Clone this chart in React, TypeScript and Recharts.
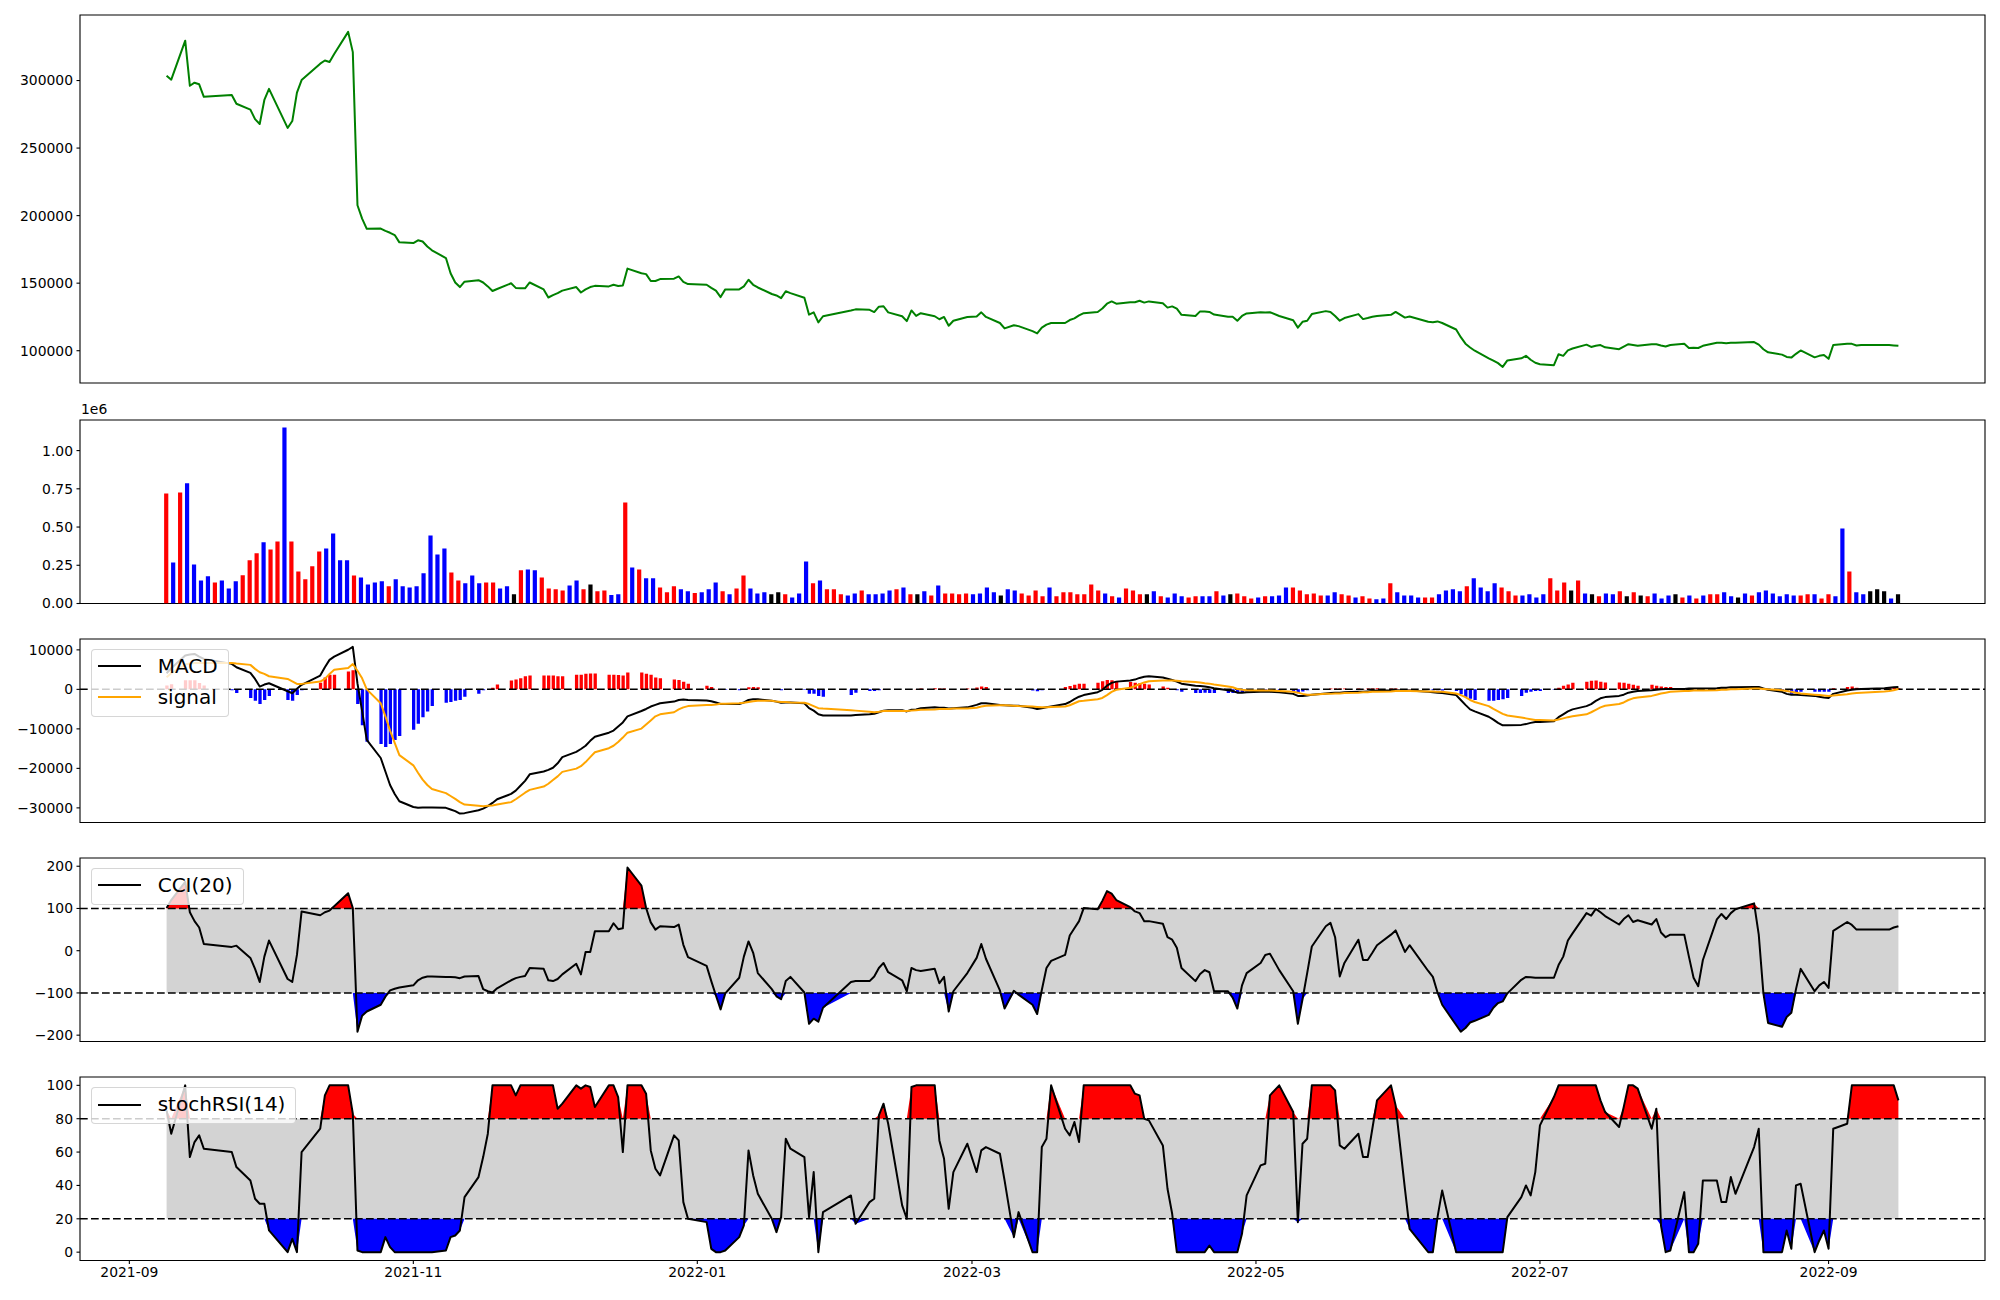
import {
  Area,
  Bar,
  Cell,
  ComposedChart,
  Legend,
  Line,
  ReferenceArea,
  ReferenceLine,
  XAxis,
  YAxis,
} from 'recharts'

// KRX trading days shown in the chart, per month
const MONTHS: [string, number[]][] = [
  ['2021-09', [9, 10, 13, 14, 15, 16, 17, 23, 24, 27, 28, 29, 30]],
  ['2021-10', [1, 5, 6, 7, 8, 12, 13, 14, 15, 18, 19, 20, 21, 22, 25, 26, 27, 28, 29]],
  ['2021-11', [1, 2, 3, 4, 5, 8, 9, 10, 11, 12, 15, 16, 17, 18, 19, 22, 23, 24, 25, 26, 29, 30]],
  ['2021-12', [1, 2, 3, 6, 7, 8, 9, 10, 13, 14, 15, 16, 17, 20, 21, 22, 23, 24, 27, 28, 29, 30]],
  ['2022-01', [3, 4, 5, 6, 7, 10, 11, 12, 13, 14, 17, 18, 19, 20, 21, 24, 25, 26, 27, 28]],
  ['2022-02', [3, 4, 7, 8, 9, 10, 11, 14, 15, 16, 17, 18, 21, 22, 23, 24, 25, 28]],
  ['2022-03', [2, 3, 4, 7, 8, 10, 11, 14, 15, 16, 17, 18, 21, 22, 23, 24, 25, 28, 29, 30, 31]],
  ['2022-04', [1, 4, 5, 6, 7, 8, 11, 12, 13, 14, 15, 18, 19, 20, 21, 22, 25, 26, 27, 28, 29]],
  ['2022-05', [2, 3, 4, 6, 9, 10, 11, 12, 13, 16, 17, 18, 19, 20, 23, 24, 25, 26, 27, 30, 31]],
  ['2022-06', [2, 3, 7, 8, 9, 10, 13, 14, 15, 16, 17, 20, 21, 22, 23, 24, 27, 28, 29, 30]],
  ['2022-07', [1, 4, 5, 6, 7, 8, 11, 12, 13, 14, 15, 18, 19, 20, 21, 22, 25, 26, 27, 28, 29]],
  ['2022-08', [1, 2, 3, 4, 5, 8, 9, 10, 11, 12, 16, 17, 18, 19, 22, 23, 24, 25, 26, 29, 30, 31]],
  ['2022-09', [1, 2, 5, 6, 7, 8, 13, 14, 15, 16]],
]

const X_TICK_DATES = ['2021-09-01', '2021-11-01', '2022-01-01', '2022-03-01', '2022-05-01', '2022-07-01', '2022-09-01']

const PRICE = [
  303500, 300600, 329500, 296100, 298400, 297200, 287900, 289300, 282800, 278500,
  271400, 267800, 285600, 293800, 264900, 270000, 291000, 300300, 312500, 314800,
  313700, 319600, 336000, 321000, 207700, 197800, 190200, 190400, 188700, 187300,
  185600, 180200, 179700, 181700, 180800, 177100, 174300, 168600, 157300, 150500,
  147100, 151100, 152200, 150500, 147600, 144200, 145700, 149900, 146500, 146200,
  146200, 150500, 145400, 139400, 141100, 142600, 144500, 147100, 143100, 145400,
  147100, 148000, 147600, 148800, 147900, 148200, 160800, 157300, 156700, 151600,
  151600, 153000, 153300, 155000, 151000, 149300, 148800, 146500, 144500, 139700,
  145400, 145400, 147600, 152500, 148800, 146800, 142000, 140900, 138900, 144000,
  142600, 139200, 126700, 128400, 121000, 125500, 129800, 130600, 130300, 128600,
  132600, 132900, 128400, 125500, 121900, 129800, 125800, 127800, 125500, 123300,
  125000, 118500, 122200, 125000, 125300, 128400, 125000, 120500, 116500, 118800,
  118200, 114500, 112800, 117100, 119300, 120500, 120500, 122700, 123900, 126100,
  127800, 128700, 131200, 134800, 136500, 134800, 135900, 135900, 137000, 135600,
  136500, 135100, 131900, 132800, 131100, 126600, 125700, 129100, 129100, 128700,
  126800, 125100, 125100, 122200, 125700, 127600, 128500, 128200, 128500, 125700,
  122500, 117100, 121400, 122200, 127100, 129300, 128700, 125700, 122200, 124200,
  127100, 123400, 124200, 125100, 125700, 126600, 128700, 124500, 125300, 121400,
  121100, 121700, 120500, 115700, 110000, 105200, 102400, 100000, 94400, 92700,
  90800, 88000, 92800, 94400, 96200, 93300, 91100, 90000, 89300, 97400,
  96200, 100200, 101600, 104500, 102800, 103600, 104200, 102500, 101100, 103100,
  104800, 104200, 103600, 104800, 104800, 103900, 103100, 104200, 105100, 102000,
  102200, 102000, 103600, 105900, 105900, 105600, 105900, 105900, 106400, 104500,
  101100, 98800, 97100, 95400, 94900, 97700, 100200, 95100, 96200, 96800,
  94000, 104200, 105100, 105100, 103900, 104200, 104200, 104200, 103900, 103600,
]

// volume in thousands of shares
const VOLUME_K = [
  720, 268, 726, 786, 255, 150, 178, 138, 150, 98,
  145, 185, 283, 328, 400, 353, 405, 1151, 405, 210,
  158, 243, 340, 360, 458, 283, 283, 183, 170, 125,
  138, 145, 113, 158, 113, 105, 113, 198, 445, 320,
  360, 203, 150, 133, 183, 133, 138, 138, 98, 113,
  60, 218, 223, 218, 170, 98, 93, 85, 118, 150,
  93, 125, 80, 85, 55, 60, 660, 235, 223, 165,
  165, 105, 73, 113, 93, 80, 68, 73, 93, 138,
  80, 60, 98, 183, 98, 65, 73, 60, 73, 60,
  40, 65, 275, 133, 150, 93, 93, 60, 53, 65,
  85, 60, 60, 65, 85, 93, 105, 60, 60, 80,
  53, 118, 65, 65, 60, 65, 60, 65, 105, 73,
  53, 93, 85, 65, 53, 85, 48, 105, 48, 73,
  73, 60, 60, 125, 85, 65, 48, 40, 98, 85,
  60, 60, 80, 48, 40, 65, 48, 40, 48, 48,
  48, 80, 53, 60, 65, 48, 33, 40, 48, 48,
  53, 105, 105, 85, 60, 65, 53, 53, 73, 60,
  53, 40, 48, 33, 28, 33, 133, 73, 53, 53,
  40, 40, 40, 60, 85, 93, 80, 113, 165, 105,
  80, 133, 105, 80, 53, 53, 60, 40, 60, 165,
  85, 138, 85, 150, 65, 60, 48, 65, 60, 80,
  48, 73, 53, 48, 65, 33, 53, 60, 40, 53,
  33, 53, 60, 60, 73, 48, 40, 65, 53, 73,
  85, 65, 48, 60, 53, 53, 60, 60, 33, 60,
  48, 490, 210, 73, 60, 80, 93, 80, 33, 60,
]

// bar colour per day: r = red, b = blue, k = black
const VOLUME_DIR = [
  'rbrbbbbrbb', 'brrrbrrbrr', 'rrrbbbbrbb', 'bbrbbbbbbb', 'brrbbbrrbb',
  'krbbrrrrbb', 'rkrrbbrbrb', 'brrrbbrbbb', 'rbrrbbbkkr', 'bbbrbrrrbb',
  'rbbbbrbrkb', 'rbrrrrbbbb', 'kbbrrrrbrr', 'rrrrrbrbrr', 'rkbrbbbrrb',
  'brbkrrrbrb', 'bbrrrrrbbr', 'rbrrbbrbbb', 'brrbbbbrbb', 'bbrrrbbbbr',
  'rrkrbkrbbr', 'krkrbbbkrb', 'rbrrbbkbrb', 'bbbbbrrbrr', 'bbrbbkkkbk',
].join('')

const MACD = [
  4080, 5340, 8560, 8810, 8980, 8300, 7720, 6450, 5600, 4170,
  2650, 710, 1220, 1550, -480, -990, 130, 1140, 3490, 5600,
  7470, 8300, 10030, 10750, 1500, -5500, -12800, -17370, -20780, -24200,
  -26470, -28330, -29780, -29990, -29880, -29880, -29880, -29990, -30400, -30810,
  -31430, -31330, -30610, -30190, -29570, -28750, -27810, -26470, -25640, -24400,
  -23160, -21510, -20780, -20370, -19850, -18720, -17160, -15820, -15100, -14270,
  -13030, -11990, -10960, -10440, -9410, -8380, -6820, -5480, -4960, -4340,
  -3930, -3520, -3100, -2690, -2590, -2690, -2790, -3000, -3310, -3720,
  -3720, -3720, -3310, -2690, -2480, -2480, -2900, -3100, -3410, -3310,
  -3310, -3520, -4760, -5380, -6310, -6620, -6620, -6510, -6310, -6200,
  -5790, -5380, -5270, -5270, -5580, -5170, -5070, -4760, -4550, -4650,
  -4650, -4860, -4760, -4550, -3930, -3520, -3520, -3930, -4030, -4140,
  -4140, -4650, -4960, -4760, -4550, -4340, -3720, -3200, -2480, -1860,
  -1450, -720, -100, 930, 1650, 1960, 2270, 2480, 2900, 3210,
  3310, 3000, 2690, 2380, 1960, 1450, 930, 830, 720, 520,
  310, -200, -410, -830, -830, -720, -620, -620, -620, -720,
  -1140, -1650, -1650, -1550, -1340, -1030, -930, -830, -830, -720,
  -620, -620, -520, -410, -310, -310, -200, -310, -310, -620,
  -720, -830, -930, -1450, -2690, -3930, -5070, -5580, -6930, -7650,
  -8480, -9100, -9100, -8990, -8790, -8480, -8270, -8270, -8070, -7030,
  -6310, -5580, -5070, -4240, -3720, -2900, -2270, -1960, -1650, -1340,
  -830, -620, -410, -200, -100, 0, 100, 100, 100, 210,
  210, 210, 210, 310, 410, 410, 520, 520, 620, 620,
  210, -100, -620, -1140, -1340, -1340, -1450, -1650, -1860, -2070,
  -2170, -1140, -310, -100, 0, 100, 310, 410, 520, 620,
]

const SIGNAL = [
  3070, 4080, 6280, 6530, 6700, 6700, 6700, 6700, 6530, 6200,
  5190, 4330, 3920, 3320, 2650, 2050, 1390, 1390, 1970, 2650,
  3920, 4940, 5380, 6410, 4700, 2800, 0, -3520, -6820, -10440,
  -13540, -16650, -19230, -21090, -22850, -24200, -25230, -26260, -26990, -27710,
  -28540, -29160, -29470, -29570, -29470, -29370, -29160, -28540, -27810, -26990,
  -26160, -25440, -24610, -23890, -22950, -22020, -20890, -20060, -19440, -18410,
  -17160, -15920, -14890, -14270, -13340, -12200, -10960, -9930, -8890, -7860,
  -6820, -6310, -5790, -5070, -4550, -4240, -3930, -3930, -3830, -3620,
  -3620, -3520, -3410, -3200, -3000, -2900, -2900, -3100, -3200, -3200,
  -3310, -3410, -3720, -4240, -4760, -4860, -5270, -5380, -5690, -5790,
  -5690, -5480, -5480, -5480, -5480, -5380, -5270, -5170, -5070, -4960,
  -4960, -4960, -4860, -4860, -4650, -4340, -4140, -4030, -4030, -4140,
  -4240, -4340, -4450, -4550, -4550, -4450, -4340, -4030, -3520, -3000,
  -2900, -2480, -2170, -1450, -620, -100, 410, 830, 1340, 1760,
  2070, 2270, 2270, 2270, 2170, 2070, 1860, 1760, 1550, 1450,
  1240, 720, 520, 100, -100, -200, -310, -310, -310, -410,
  -620, -830, -1140, -1340, -1340, -1140, -1140, -1030, -1030, -930,
  -830, -720, -720, -620, -620, -520, -410, -410, -410, -520,
  -520, -620, -620, -1030, -1450, -1960, -2690, -3200, -4240, -4960,
  -5580, -6200, -6620, -7130, -7340, -7550, -7760, -7760, -7860, -7650,
  -7340, -7030, -6820, -6310, -5790, -5170, -4550, -4140, -3720, -3310,
  -2690, -2270, -2070, -1650, -1340, -1030, -830, -620, -410, -410,
  -310, -310, -310, -200, -100, -100, 0, 0, 210, 210,
  100, 0, -200, -410, -620, -830, -1030, -1340, -1450, -1550,
  -1650, -1550, -1240, -1030, -930, -830, -520, -410, -200, 100,
]

const HIST = [
  1000, 1300, 2300, 2300, 2300, 1600, 1000, -250, -930, -2170,
  -2900, -3720, -2690, -1650, -2690, -2900, -1450, -250, 1650, 3000,
  3720, 3720, 4550, 4860, -3720, -9100, -13240, -13860, -14580, -13860,
  -12820, -11790, -10240, -8690, -7030, -5580, -4240, -3410, -3200, -2900,
  -2690, -1860, -1140, -200, 0, 410, 1240, 2270, 2480, 2790,
  3310, 3520, 3520, 3520, 3520, 3310, 3310, 3720, 3720, 3930,
  4030, 4030, 3720, 3720, 3620, 3520, 4240, 4240, 3930, 3720,
  3000, 2790, 2480, 2380, 1960, 1450, 930, 620, 100, -100,
  -100, -200, 0, 520, 620, 520, 0, 0, -200, -100,
  -100, -100, -1140, -1140, -1650, -1860, -1450, -830, -410, -410,
  -200, 100, -100, 0, -100, 50, 100, 200, 300, 200,
  200, 50, 50, 200, 500, 700, 600, 100, 0, 0,
  50, -300, -500, -200, 0, 100, 620, 830, 1140, 1450,
  1450, 1650, 2070, 2380, 2280, 2070, 1860, 1650, 1550, 1450,
  1240, 720, 410, 100, -200, -620, -930, -930, -830, -930,
  -930, -930, -930, -930, -720, -520, -310, -310, -310, -310,
  -520, -830, -520, -200, 0, 100, 200, 200, 200, 200,
  200, 100, 200, 200, 300, 200, 200, 100, 100, -100,
  -200, -200, -300, -420, -1240, -1960, -2380, -2690, -2900, -2900,
  -2690, -2480, -2170, -1650, -830, -620, -410, -410, -100, 410,
  930, 1240, 1650, 1960, 2170, 2270, 1960, 1760, 1760, 1650,
  1450, 1140, 930, 1140, 930, 720, 620, 620, 200, 150,
  100, 100, 100, 150, 150, 150, 150, 150, 100, 100,
  0, -200, -300, -620, -1140, -720, -620, -620, -620, -620,
  -620, 300, 620, 720, 400, 300, 200, 300, 410, 300,
]

const CCI = [
  101, 120, 163, 91, 70, 55, 16, 9, 12, -17,
  -43, -74, -14, 24, -67, -74, -10, 93, 84, 91,
  95, 105, 136, 101, -192, -154, -144, -128, -109, -94,
  -90, -87, -82, -70, -64, -61, -61, -62, -62, -63,
  -65, -61, -60, -91, -96, -99, -89, -70, -65, -62,
  -60, -41, -43, -70, -72, -67, -56, -31, -56, -3,
  -3, 46, 46, 65, 51, 53, 197, 154, 101, 67,
  50, 58, 56, 62, 14, -15, -36, -72, -106, -139,
  -101, -64, -14, 22, -5, -53, -91, -108, -115, -72,
  -62, -99, -173, -161, -168, -135, -74, -72, -72, -61,
  -41, -29, -51, -70, -96, -41, -46, -48, -43, -77,
  -62, -144, -96, -53, -17, 16, -19, -94, -137, -95,
  -104, -128, -150, -93, -41, -24, -10, 36, 53, 70,
  101, 98, 118, 141, 135, 120, 103, 93, 89, 70,
  70, 64, 32, 26, 7, -41, -72, -55, -46, -51,
  -96, -96, -111, -137, -82, -53, -29, -10, -7, -46,
  -96, -173, -115, -53, 10, 58, 66, 32, -61, -29,
  26, -22, -22, -5, 13, 38, 48, -3, 13, -48,
  -62, -99, -128, -176, -192, -183, -170, -166, -152, -135,
  -124, -120, -101, -69, -62, -63, -64, -64, -64, -34,
  -14, 24, 41, 89, 83, 99, 91, 82, 62, 75,
  84, 68, 72, 62, 75, 43, 32, 38, 38, -14,
  -64, -84, -22, 74, 87, 75, 89, 98, 112, 38,
  -101, -171, -180, -157, -147, -91, -43, -96, -82, -74,
  -88, 47, 68, 61, 50, 50, 50, 50, 55, 58,
]

const STOCH_RSI = [
  85, 71, 100, 57, 66, 70, 62, 60, 51, 43,
  32, 29, 29, 13, 0, 8, 0, 60, 74, 94,
  100, 100, 100, 83, 1, 0, 0, 0, 9, 3,
  0, 0, 0, 0, 0, 0, 0, 1, 9, 10,
  13, 33, 45, 57, 71, 100, 100, 100, 94, 100,
  100, 100, 100, 100, 100, 86, 89, 100, 98, 100,
  99, 87, 100, 100, 93, 60, 100, 100, 95, 61,
  50, 46, 70, 67, 30, 20, 18, 2, 0, 0,
  1, 9, 16, 61, 46, 35, 20, 12, 21, 68,
  62, 57, 21, 48, 0, 24, 34, 17, 30, 32,
  82, 89, 77, 28, 20, 99, 100, 100, 100, 67,
  56, 26, 48, 65, 48, 61, 63, 59, 43, 9,
  24, 0, 0, 63, 68, 100, 74, 70, 78, 66,
  100, 100, 100, 100, 100, 100, 100, 95, 94, 80,
  79, 64, 38, 23, 0, 0, 0, 0, 0, 4,
  0, 0, 0, 0, 11, 34, 52, 53, 94, 100,
  84, 18, 65, 68, 100, 100, 100, 97, 64, 62,
  71, 57, 57, 74, 91, 100, 88, 38, 14, 0,
  0, 21, 37, 0, 0, 0, 0, 0, 0, 0,
  0, 0, 21, 33, 40, 34, 48, 76, 93, 100,
  100, 100, 100, 100, 100, 100, 91, 84, 75, 87,
  100, 100, 98, 74, 86, 16, 0, 1, 36, 0,
  0, 5, 43, 43, 30, 30, 45, 35, 63, 74,
  0, 0, 0, 13, 2, 40, 41, 0, 7, 13,
  2, 74, 77, 100, 100, 100, 100, 100, 100, 91,
]

const FONT = 'DejaVu Sans'
const TICK = { fill: '#000', fontSize: 13.9, fontFamily: FONT }
const TICK_LINE = { stroke: '#000', strokeWidth: 1.1 }
const DASH = '7.7 3.3'
const COLORS: Record<string, string> = { r: '#ff0000', b: '#0000ff', k: '#000000' }

const ORIGIN = Date.UTC(2021, 8, 1)
const dayOf = (iso: string) => {
  const [y, m, d] = iso.split('-').map(Number)
  return (Date.UTC(y, m - 1, d) - ORIGIN) / 86400000
}

const TRADING_DATES = MONTHS.flatMap(([ym, days]) =>
  days.map((d) => `${ym}-${String(d).padStart(2, '0')}`),
)
const X_TICKS = X_TICK_DATES.map(dayOf)
const X_LABELS = new Map(X_TICK_DATES.map((s) => [dayOf(s), s.slice(0, 7)]))
const X_DOMAIN: [number, number] = [-10.6, 398.6]
const VOL_DOMAIN: [number, number] = [-12.45, 261.45]

const minus = (v: number) => (v < 0 ? `\u2212${Math.abs(v)}` : String(v))

const rows = TRADING_DATES.map((date, i) => ({
  x: dayOf(date),
  price: PRICE[i],
  macd: MACD[i],
  signal: SIGNAL[i],
  hist: HIST[i],
  cci: CCI[i],
  cciBand: [-100, 100],
  cciHigh: [100, Math.max(CCI[i], 100)],
  cciLow: [Math.min(CCI[i], -100), -100],
  stoch: STOCH_RSI[i],
  stBand: [20, 80],
  stHigh: [80, Math.max(STOCH_RSI[i], 80)],
  stLow: [Math.min(STOCH_RSI[i], 20), 20],
}))

const volRows = VOLUME_K.map((v, i) => ({ i, vol: v, dir: VOLUME_DIR[i] }))

// padding around each plot so the frame and edge tick labels are not clipped
const PAD_T = 10
const PAD_B = 14
const MARGIN = { top: PAD_T, right: 15, bottom: PAD_B, left: 0 }

function frame(xd: [number, number], yd: [number, number]) {
  return (
    <ReferenceArea
      x1={xd[0]}
      x2={xd[1]}
      y1={yd[0]}
      y2={yd[1]}
      fill="none"
      fillOpacity={0}
      stroke="#000"
      strokeWidth={1.1}
      ifOverflow="visible"
    />
  )
}

function yAxis(domain: [number, number], ticks: number[], fmt = minus) {
  return (
    <YAxis
      type="number"
      domain={domain}
      ticks={ticks}
      interval={0}
      allowDataOverflow
      width={80}
      tick={TICK}
      tickLine={TICK_LINE}
      tickSize={3.5}
      tickMargin={3.5}
      axisLine={false}
      tickFormatter={fmt}
    />
  )
}

function LegendBox({ items }: { items: { label: string; color: string }[] }) {
  return (
    <div
      style={{
        background: 'rgba(255,255,255,0.8)',
        border: '1px solid rgba(204,204,204,0.8)',
        borderRadius: 4,
        padding: '5px 10px 7px 6px',
        fontFamily: FONT,
        fontSize: 20,
        lineHeight: '23px',
        color: '#000',
      }}
    >
      {items.map((it, k) => (
        <div key={it.label} style={{ display: 'flex', alignItems: 'center', marginTop: k ? 8 : 0 }}>
          <span style={{ width: 43, height: 0, borderTop: `2px solid ${it.color}`, marginRight: 17 }} />
          <span>{it.label}</span>
        </div>
      ))}
    </div>
  )
}

function legend(items: { label: string; color: string }[]) {
  return (
    <Legend
      layout="horizontal"
      align="center"
      verticalAlign="middle"
      content={() => <LegendBox items={items} />}
      wrapperStyle={{ left: 90.7, top: PAD_T + 10, width: 'auto', height: 'auto' }}
    />
  )
}

const hiddenX = (
  <XAxis dataKey="x" type="number" domain={X_DOMAIN} allowDataOverflow hide />
)

const PLOT_H = 183.5

export default function App() {
  const PRICE_DOM: [number, number] = [76100, 348500]
  const VOL_DOM: [number, number] = [0, 1200]
  const MACD_DOM: [number, number] = [-33700, 12750]
  const CCI_DOM: [number, number] = [-215, 219.5]
  const ST_DOM: [number, number] = [-5, 105]

  return (
    <div
      style={{
        position: 'absolute',
        left: 0,
        top: 0,
        width: 2000,
        height: 1300,
        background: '#fff',
        fontFamily: FONT,
      }}
    >
      <div style={{ position: 'absolute', left: 0, top: 15 - PAD_T }}>
        <ComposedChart width={2000} height={368 + PAD_T + PAD_B} data={rows} margin={MARGIN}>
          {hiddenX}
          {yAxis(PRICE_DOM, [100000, 150000, 200000, 250000, 300000])}
          <Line
            dataKey="price"
            stroke="#008000"
            strokeWidth={2}
            strokeLinejoin="round"
            dot={false}
            activeDot={false}
            isAnimationActive={false}
          />
          {frame(X_DOMAIN, PRICE_DOM)}
        </ComposedChart>
      </div>

      <div
        style={{ position: 'absolute', left: 81, top: 401, fontSize: 13.9, fontFamily: FONT, color: '#000' }}
      >
        1e6
      </div>
      <div style={{ position: 'absolute', left: 0, top: 419.5 - PAD_T }}>
        <ComposedChart width={2000} height={PLOT_H + PAD_T + PAD_B} data={volRows} margin={MARGIN}>
          <XAxis dataKey="i" type="number" domain={VOL_DOMAIN} allowDataOverflow hide />
          {yAxis(VOL_DOM, [0, 250, 500, 750, 1000], (v: number) => (v / 1000).toFixed(2))}
          <Bar dataKey="vol" barSize={4.2} isAnimationActive={false}>
            {volRows.map((r) => (
              <Cell key={r.i} fill={COLORS[r.dir]} />
            ))}
          </Bar>
          {frame(VOL_DOMAIN, VOL_DOM)}
        </ComposedChart>
      </div>

      <div style={{ position: 'absolute', left: 0, top: 638.5 - PAD_T }}>
        <ComposedChart width={2000} height={PLOT_H + PAD_T + PAD_B} data={rows} margin={MARGIN}>
          {hiddenX}
          {yAxis(MACD_DOM, [-30000, -20000, -10000, 0, 10000])}
          <Bar dataKey="hist" barSize={3.3} isAnimationActive={false}>
            {rows.map((r) => (
              <Cell key={r.x} fill={r.hist >= 0 ? '#ff0000' : '#0000ff'} />
            ))}
          </Bar>
          <ReferenceLine y={0} stroke="#000" strokeWidth={1.5} strokeDasharray={DASH} />
          <Line dataKey="macd" stroke="#000" strokeWidth={2} strokeLinejoin="round" dot={false} activeDot={false} isAnimationActive={false} />
          <Line dataKey="signal" stroke="#ffa500" strokeWidth={2} strokeLinejoin="round" dot={false} activeDot={false} isAnimationActive={false} />
          {frame(X_DOMAIN, MACD_DOM)}
          {legend([
            { label: 'MACD', color: '#000' },
            { label: 'signal', color: '#ffa500' },
          ])}
        </ComposedChart>
      </div>

      <div style={{ position: 'absolute', left: 0, top: 857.5 - PAD_T }}>
        <ComposedChart width={2000} height={PLOT_H + PAD_T + PAD_B} data={rows} margin={MARGIN}>
          {hiddenX}
          {yAxis(CCI_DOM, [-200, -100, 0, 100, 200])}
          <Area dataKey="cciBand" type="linear" stroke="none" fill="#d3d3d3" fillOpacity={1} dot={false} activeDot={false} isAnimationActive={false} />
          <Area dataKey="cciHigh" type="linear" stroke="none" fill="#ff0000" fillOpacity={1} dot={false} activeDot={false} isAnimationActive={false} />
          <Area dataKey="cciLow" type="linear" stroke="none" fill="#0000ff" fillOpacity={1} dot={false} activeDot={false} isAnimationActive={false} />
          <ReferenceLine y={100} stroke="#000" strokeWidth={1.5} strokeDasharray={DASH} />
          <ReferenceLine y={-100} stroke="#000" strokeWidth={1.5} strokeDasharray={DASH} />
          <Line dataKey="cci" stroke="#000" strokeWidth={2} strokeLinejoin="round" dot={false} activeDot={false} isAnimationActive={false} />
          {frame(X_DOMAIN, CCI_DOM)}
          {legend([{ label: 'CCI(20)', color: '#000' }])}
        </ComposedChart>
      </div>

      <div style={{ position: 'absolute', left: 0, top: 1077 - PAD_T }}>
        <ComposedChart
          width={2000}
          height={PLOT_H + PAD_T + 40}
          data={rows}
          margin={{ ...MARGIN, bottom: 0 }}
        >
          <XAxis
            dataKey="x"
            type="number"
            domain={X_DOMAIN}
            allowDataOverflow
            ticks={X_TICKS}
            interval={0}
            height={40}
            tick={TICK}
            tickLine={TICK_LINE}
            tickSize={3.5}
            tickMargin={3.5}
            axisLine={false}
            tickFormatter={(v: number) => X_LABELS.get(v) ?? ''}
          />
          {yAxis(ST_DOM, [0, 20, 40, 60, 80, 100])}
          <Area dataKey="stBand" type="linear" stroke="none" fill="#d3d3d3" fillOpacity={1} dot={false} activeDot={false} isAnimationActive={false} />
          <Area dataKey="stHigh" type="linear" stroke="none" fill="#ff0000" fillOpacity={1} dot={false} activeDot={false} isAnimationActive={false} />
          <Area dataKey="stLow" type="linear" stroke="none" fill="#0000ff" fillOpacity={1} dot={false} activeDot={false} isAnimationActive={false} />
          <ReferenceLine y={80} stroke="#000" strokeWidth={1.5} strokeDasharray={DASH} />
          <ReferenceLine y={20} stroke="#000" strokeWidth={1.5} strokeDasharray={DASH} />
          <Line dataKey="stoch" stroke="#000" strokeWidth={2} strokeLinejoin="round" dot={false} activeDot={false} isAnimationActive={false} />
          {frame(X_DOMAIN, ST_DOM)}
          {legend([{ label: 'stochRSI(14)', color: '#000' }])}
        </ComposedChart>
      </div>
    </div>
  )
}
